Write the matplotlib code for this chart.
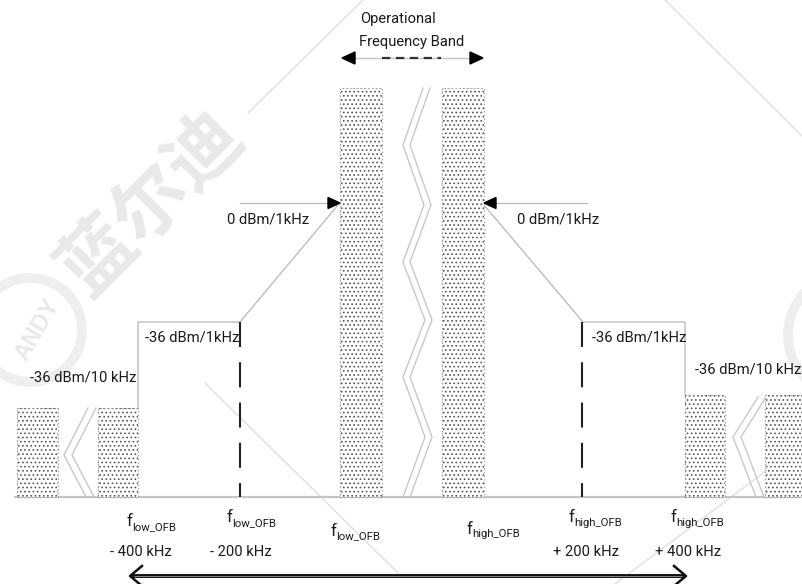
import matplotlib
matplotlib.use("Agg")
import matplotlib.pyplot as plt
from matplotlib.patches import Polygon, Circle

plt.rcParams['font.family'] = ['Roboto', 'Liberation Sans', 'DejaVu Sans']
plt.rcParams['lines.scale_dashes'] = False
plt.rcParams['hatch.linewidth'] = 0.7

# ---- diagram geometry (pixel units) ----
BASE = 497
bar_left = [17, 98, 340, 442, 685, 765]
bar_width = [41, 40, 42, 42, 40, 40]
bar_top = [408, 408, 88, 88, 395, 395]

# spectrum mask outline (gray)
mask_left_x = [138, 138, 240, 338]
mask_left_y = [408, 322, 322, 205]
mask_right_x = [484, 583, 685, 685]
mask_right_y = [205, 322, 322, 395]

# dashed reference lines
dash_x = [240, 582]
dash_top = 322

# zig-zag break symbols
zig_center_x = [423, 403, 424, 403, 425, 403, 425, 403]
zig_center_y = [88, 145, 205, 262, 320, 377, 437, 497]
zig_left_x = [88, 64, 86]
zig_left_y = [408, 455, 497]
zig_right_x = [758, 733, 756]
zig_right_y = [397, 437, 497]

# level labels
level_labels = ["0 dBm/1kHz", "0 dBm/1kHz", "-36 dBm/1kHz", "-36 dBm/1kHz",
                "-36 dBm/10 kHz", "-36 dBm/10 kHz"]
level_x = [227, 517, 145, 592, 30, 695]
level_y = [219, 219, 337, 337, 378, 369]

# frequency labels
freq_sub = ["low_OFB", "low_OFB", "low_OFB", "high_OFB", "high_OFB", "high_OFB"]
freq_fx = [127, 227, 331, 467, 569, 671]
freq_fy = [522, 518, 531, 529, 518, 518]
freq_off = ["- 400 kHz", "- 200 kHz", "", "", "+ 200 kHz", "+ 400 kHz"]
freq_off_x = [110, 210, 0, 0, 553, 655]
freq_off_y = [552, 552, 0, 0, 552, 552]

FS = 10.6
TC = '#1a1a1a'

fig = plt.figure(figsize=(8.03, 5.84), dpi=100)
ax = fig.add_axes([0, 0, 1, 1])
ax.set_xlim(0, 803)
ax.set_ylim(584, 0)
ax.axis('off')

# ---- watermark ----
wm = '#e9e9e9'
ax.text(152, 203, "蓝尔迪", fontsize=54, rotation=45, color=wm, ha='center', va='center',
        family=['Noto Sans CJK SC'], fontweight='bold', zorder=0)
ax.add_patch(Circle((30, 330), 52, fill=False, ec='#eeeeee', lw=7, zorder=0))
ax.text(38, 330, "ANDY", fontsize=17, rotation=60, color=wm, ha='center', va='center',
        fontweight='bold', family=['Liberation Sans'], zorder=0)
ax.add_patch(Circle((850, 335), 62, fill=False, ec='#eeeeee', lw=7, zorder=0))
wl = '#d9d9d9'
for (x0, y0, x1, y1) in [(363, 0, 248, 113), (665, 0, 803, 137),
                         (205, 383, 400, 575), (770, 468, 615, 584)]:
    ax.plot([x0, x1], [y0, y1], color=wl, lw=0.8, zorder=0)

# ---- baseline ----
ax.plot([15, 803], [BASE, BASE], color='#c4c4c4', lw=1.6, zorder=1)

# ---- bars ----
for l, w, t in zip(bar_left, bar_width, bar_top):
    ax.bar(l, t - BASE, width=w, bottom=BASE, align='edge', color='white',
           edgecolor='#555555', hatch='....', lw=0, zorder=2)
    ax.bar(l, t - BASE, width=w, bottom=BASE, align='edge', fill=False,
           edgecolor='#9a9a9a', lw=0.8, ls=':', zorder=3)

# ---- mask outline ----
ax.plot(mask_left_x, mask_left_y, color='#bdbdbd', lw=1.0, zorder=1)
ax.plot(mask_right_x, mask_right_y, color='#bdbdbd', lw=1.0, zorder=1)

# ---- dashed verticals ----
for x in dash_x:
    ax.plot([x, x], [dash_top, BASE], color='#222222', lw=1.5, dashes=(18, 11), zorder=3)

# ---- zigzags ----
zc = '#c8c8c8'
for dx in (0, 7):
    ax.plot([v + dx for v in zig_center_x], zig_center_y, color=zc, lw=1.0, zorder=1)
for dx in (0, 8):
    ax.plot([v + dx for v in zig_left_x], zig_left_y, color=zc, lw=1.0, zorder=1)
    ax.plot([v + dx for v in zig_right_x], zig_right_y, color=zc, lw=1.0, zorder=1)

# ---- 0 dBm arrows ----
ax.plot([240, 330], [203, 203], color='#bdbdbd', lw=1.0, zorder=2)
ax.add_patch(Polygon([(340, 203), (328, 197.5), (328, 208.5)], closed=True, color='black', zorder=4))
ax.plot([494, 587], [203, 203], color='#bdbdbd', lw=1.0, zorder=2)
ax.add_patch(Polygon([(484, 203), (496, 197.5), (496, 208.5)], closed=True, color='black', zorder=4))

# ---- operational frequency band arrow ----
ax.plot([352, 473], [58, 58], color='#c4c4c4', lw=1.0, zorder=2)
ax.plot([382, 441], [58, 58], color='#333333', lw=1.6, dashes=(6, 4), zorder=3)
ax.add_patch(Polygon([(342, 58), (355, 52), (355, 64)], closed=True, color='black', zorder=4))
ax.add_patch(Polygon([(483, 58), (470, 52), (470, 64)], closed=True, color='black', zorder=4))
ax.text(398, 19, "Operational", fontsize=FS, ha='center', va='center', color=TC)
ax.text(412, 42, "Frequency Band", fontsize=FS, ha='center', va='center', color=TC)

# ---- level labels ----
for s, x, y in zip(level_labels, level_x, level_y):
    ax.text(x, y, s, fontsize=FS, ha='left', va='center', color=TC, zorder=5)

# ---- frequency labels ----
for sub, fx, fy, off, ox, oy in zip(freq_sub, freq_fx, freq_fy, freq_off, freq_off_x, freq_off_y):
    ax.text(fx, fy, "f", fontsize=12, ha='left', va='center', color=TC)
    ax.text(fx + 5, fy + 5, sub, fontsize=8.2, ha='left', va='center', color=TC)
    if off:
        ax.text(ox, oy, off, fontsize=FS, ha='left', va='center', color=TC)

# ---- bottom double-line arrow ----
ax.plot([131, 685], [576, 576], color='#111111', lw=2.8, solid_capstyle='butt', zorder=3)
ax.plot([134, 682], [576, 576], color='#9a9a9a', lw=0.6, solid_capstyle='butt', zorder=4)
ax.plot([142, 130, 142], [566, 576, 586], color='#111111', lw=1.8, zorder=4)
ax.plot([674, 686, 674], [566, 576, 586], color='#111111', lw=1.8, zorder=4)

fig.savefig("out.png", dpi=100)
